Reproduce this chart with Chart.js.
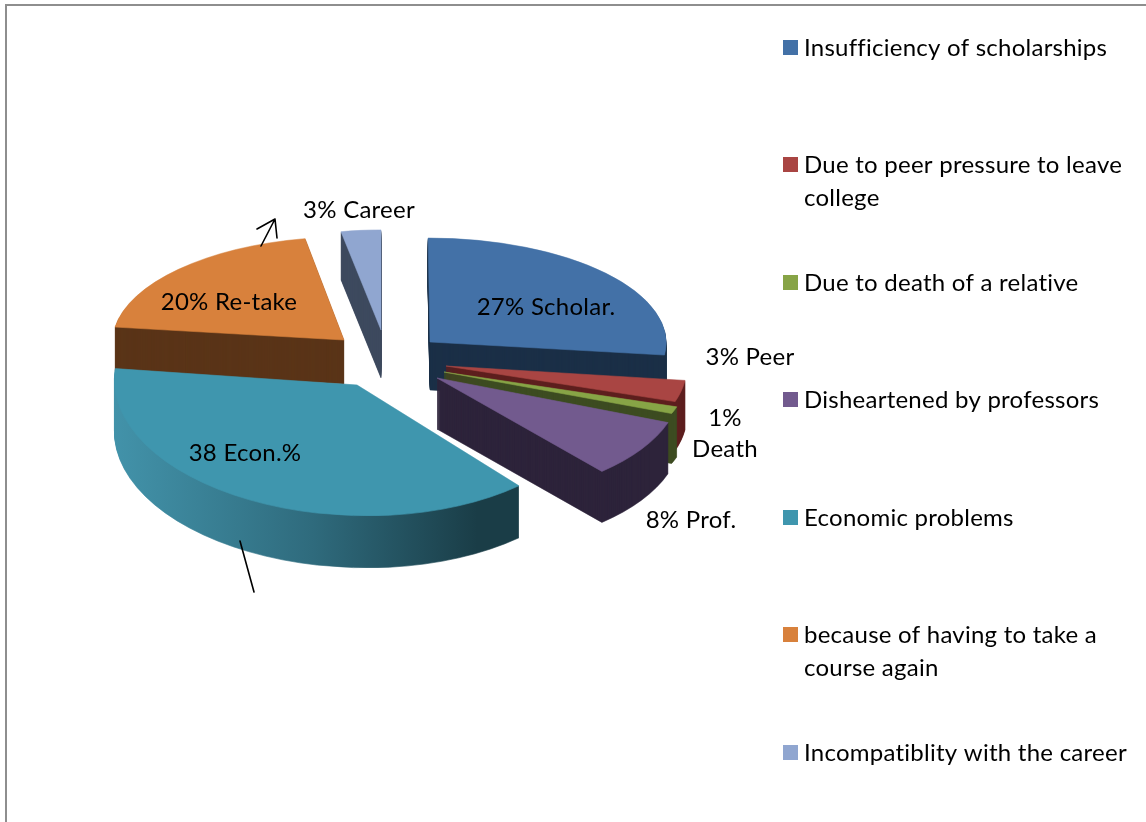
<!DOCTYPE html>
<html>
<head>
<meta charset="utf-8">
<style>html,body{margin:0;padding:0;background:#fff;overflow:hidden}canvas{display:block}</style>
<script src="https://cdn.jsdelivr.net/npm/chart.js@4"></script>
</head>
<body>
<canvas id="c" width="1146" height="822"></canvas>
<script>
const categories = ["Insufficiency of scholarships","Due to peer pressure to leave college","Due to death of a relative","Disheartened by professors","Economic problems","because of having to take a course again","Incompatiblity with the career"];
const values = [27,3,1,8,38,20,3];
const sliceLabels = [["27% Scholar."],["3% Peer"],["1%","Death"],["8% Prof."],["38 Econ.%"],["20% Re-take"],["3% Career"]];
const topColors = ["#4371a7","#a94543","#87a446","#725a8e","#3f96ae","#d8813c","#90a6d0"];
const wallColors = ["#1b2f47","#5e1f1e","#3d4c21","#2d233b",null,"#5a3418","#3d4a5e"];

// 3D view: per-slice explode vector, ellipse scale and shear, extrusion depth
const view = [
  {dx:35, dy:-18, sx:0.984, sy:0.433, k:0.008,  depth:48},
  {dx:51, dy:6,   sx:1.004, sy:0.48,  k:0,      depth:49},
  {dx:49, dy:12,  sx:1.02,  sy:0.47,  k:0,      depth:50},
  {dx:42, dy:18,  sx:1.015, sy:0.505, k:0.052,  depth:51},
  {dx:-38,dy:25,  sx:1.01,  sy:0.545, k:0.04,   depth:52},
  {dx:-51,dy:-20, sx:0.964, sy:0.43,  k:-0.019, depth:44},
  {dx:-14,dy:-30, sx:0.89,  sy:0.417, k:0,      depth:48}
];
const drawOrder = [6,0,5,1,2,3,4];
const labelAt = [[546,307],[750,357],[725,418],[691,520],[245,453],[229,302],[359,210]];
const font = '24px Lato, Carlito, sans-serif';

function drawSlice(ctx, el, v, fill, yShift){
  ctx.save();
  ctx.transform(v.sx, 0, v.k, v.sy, el.x + v.dx, el.y + v.dy + yShift);
  ctx.translate(-el.x, -el.y);
  const proxy = Object.create(el, {options:{value:{
    backgroundColor:fill, borderColor:fill, borderWidth:0.8, offset:0, spacing:0,
    borderRadius:0, circular:true, borderJoinStyle:'round', borderAlign:'center',
    borderDash:[], borderDashOffset:0
  }}});
  proxy.draw(ctx);
  ctx.restore();
}

const pie3d = {
  id:'pie3d',
  beforeDraw(chart){
    const ctx = chart.ctx;
    ctx.save();
    ctx.fillStyle='#fff'; ctx.fillRect(0,0,chart.width,chart.height);
    ctx.strokeStyle='#8e8e8e'; ctx.lineWidth=2;
    ctx.beginPath(); ctx.moveTo(6,chart.height); ctx.lineTo(6,5); ctx.lineTo(chart.width,5); ctx.stroke();
    ctx.restore();
  },
  beforeDatasetsDraw(chart){
    const ctx = chart.ctx;
    const arcs = chart.getDatasetMeta(0).data;
    drawOrder.forEach(i=>{
      const el = arcs[i], v = view[i];
      let wall = wallColors[i];
      if(!wall){
        const left = el.x - el.outerRadius*1.0, right = el.x + el.outerRadius*0.72;
        const g = ctx.createLinearGradient(left,0,right,0);
        g.addColorStop(0,'#4292a9'); g.addColorStop(0.45,'#2f6b7d');
        g.addColorStop(0.85,'#1a3d47'); g.addColorStop(1,'#1a3d47');
        wall = g;
      }
      for(let d=v.depth; d>=1; d--) drawSlice(ctx, el, v, wall, d);
      drawSlice(ctx, el, v, topColors[i], 0);
    });
    return false;
  },
  afterDraw(chart){
    const ctx = chart.ctx;
    ctx.save();
    ctx.font = font; ctx.fillStyle='#000'; ctx.textBaseline='middle';
    ctx.letterSpacing='0.25px';
    // slice labels
    ctx.textAlign='center';
    sliceLabels.forEach((lines,i)=>{
      lines.forEach((t,k)=>ctx.fillText(t, labelAt[i][0], labelAt[i][1]+k*31));
    });
    // legend
    ctx.textAlign='left';
    chart.data.labels.forEach((name,i)=>{
      const y = Math.floor(48 + i*117.5);
      ctx.fillStyle = topColors[i];
      ctx.fillRect(783, y-8, 15, 15);
      ctx.fillStyle = '#000';
      const lines=[]; let cur='';
      name.split(' ').forEach(w=>{
        const t = cur ? cur+' '+w : w;
        if(ctx.measureText(t).width>335 && cur){lines.push(cur);cur=w;} else cur=t;
      });
      lines.push(cur);
      lines.forEach((t,k)=>ctx.fillText(t, 804, y+k*33));
    });
    // hand-drawn annotations
    ctx.strokeStyle='#000'; ctx.lineWidth=1.6; ctx.lineCap='round'; ctx.lineJoin='round';
    ctx.beginPath();
    ctx.moveTo(261,246); ctx.lineTo(275,219);
    ctx.moveTo(257,229); ctx.lineTo(275,219); ctx.lineTo(277,238);
    ctx.moveTo(240,541); ctx.lineTo(254,592);
    ctx.stroke();
    ctx.restore();
  }
};

new Chart(document.getElementById('c'),{
  type:'pie',
  data:{labels:categories,datasets:[{data:values,backgroundColor:topColors,borderWidth:0}]},
  options:{
    responsive:false, animation:false, radius:240,
    layout:{padding:{right:356,bottom:102}},
    plugins:{legend:{display:false},tooltip:{enabled:false}}
  },
  plugins:[pie3d]
});
</script>
</body>
</html>
